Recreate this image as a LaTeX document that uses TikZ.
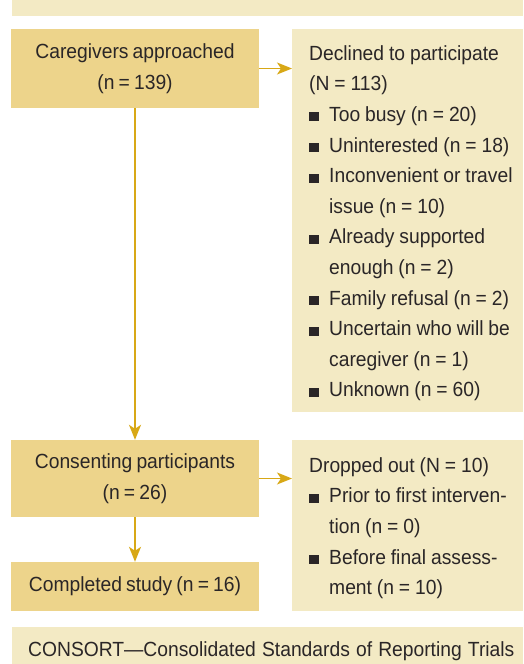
\documentclass[tikz,border=0pt]{standalone}
\usepackage{fontspec}
\setmainfont[FakeStretch=0.94,WordSpace=0.78]{Liberation Sans}
\usetikzlibrary{arrows.meta}
\definecolor{boxdark}{HTML}{EDD48B}
\definecolor{boxlight}{HTML}{F3EAC4}
\definecolor{arrowgold}{HTML}{D8A816}
\definecolor{textgray}{HTML}{2A2627}
\newcommand{\bul}{\makebox[20pt][l]{\rule{9.5pt}{9pt}}}
\newcommand{\hang}{\hspace*{20pt}}
\begin{document}
\begin{tikzpicture}[x=1pt,y=-1pt,font=\fontsize{20.5}{30.6}\selectfont,text=textgray,
dark box/.style={rectangle,fill=boxdark,inner sep=0pt,minimum width=248pt,align=center},
light box/.style={rectangle,fill=boxlight,inner sep=0pt,anchor=north west,text width=231pt,align=left},
flow/.style={draw=arrowgold,line width=1.5pt,-{Stealth[length=15pt,width=12pt,inset=4pt]}}]
\clip (0,0) rectangle (524,664);
\begin{scope}
\node[light box,text width=511pt,minimum height=26pt] (title) at (12,-10) {};
\node[dark box,minimum height=79pt] (approached) at (135,68.5) {Caregivers approached\\(n = 139)};
\node[light box,minimum height=383pt] (declined) at (292,29) {\leftskip=17pt\spaceskip=0.24em Declined to participate\\
(N = 113)\\
\bul Too busy (n = 20)\\
\bul Uninterested (n = 18)\\
\bul Inconvenient or travel\\
\hang issue (n = 10)\\
\bul Already supported\\
\hang enough (n = 2)\\
\bul Family refusal (n = 2)\\
\bul Uncertain who will be\\
\hang caregiver (n = 1)\\
\bul Unknown (n = 60)\par\vspace*{-5pt}};
\node[dark box,minimum height=77pt] (consenting) at (135,478.5) {Consenting participants\\(n = 26)};
\node[dark box,minimum height=49pt] (completed) at (135,586.5) {Completed study (n = 16)};
\node[light box,minimum height=171pt] (dropped) at (292,440) {\leftskip=17pt\spaceskip=0.24em Dropped out (N = 10)\\
\bul Prior to first interven-\\
\hang tion (n = 0)\\
\bul Before final assess-\\
\hang ment (n = 10)\par\vspace*{-5pt}};
\node[light box,text width=511pt,minimum height=48pt] (caption) at (12,627) {\leftskip=16pt\spaceskip=0.3em CONSORT—Consolidated Standards of Reporting Trials\par};
\end{scope}
\begin{scope}
\draw[flow] (approached) -- (consenting);
\draw[flow] (approached.east) -- (approached.east -| declined.west);
\draw[flow] (consenting) -- (completed);
\draw[flow] (consenting.east) -- (consenting.east -| dropped.west);
\end{scope}
\end{tikzpicture}
\end{document}
